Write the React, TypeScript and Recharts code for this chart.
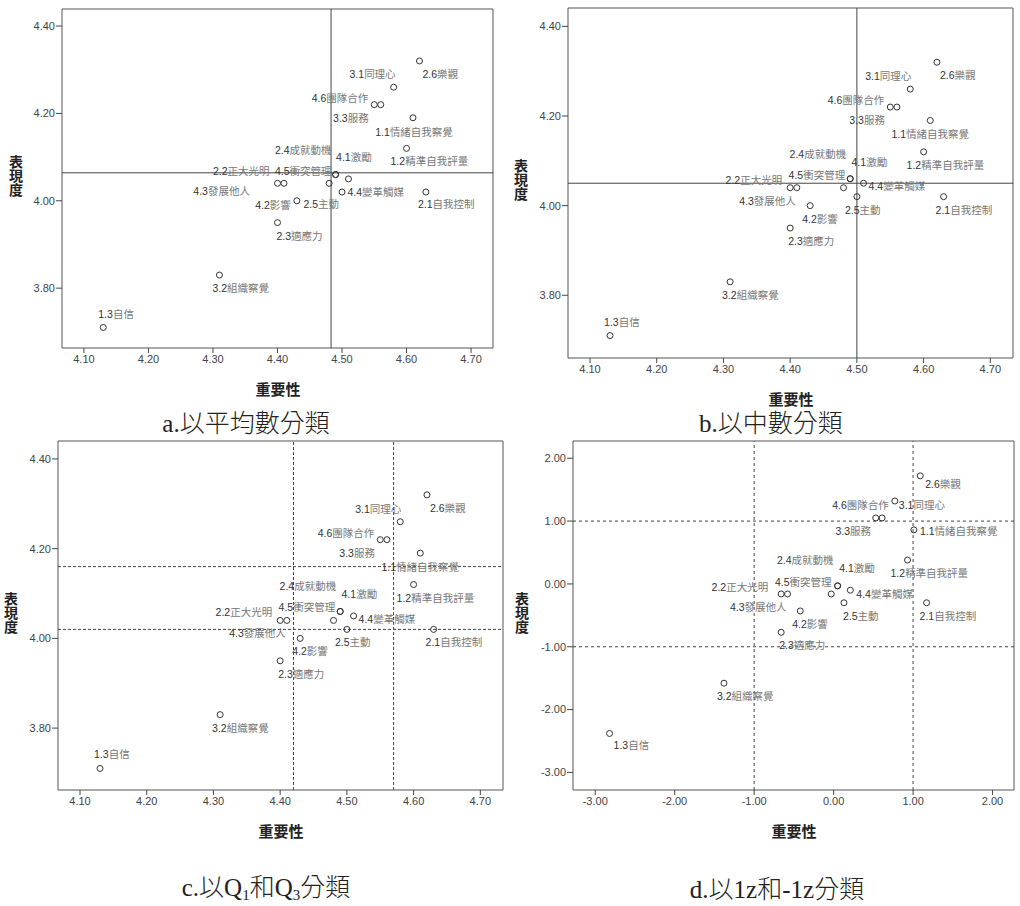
import React from "react";
import { ScatterChart, Scatter, XAxis, YAxis, ReferenceLine, ReferenceArea } from "recharts";

// 18 competencies: code, name
const codes = ["1.1", "1.2", "1.3", "2.1", "2.2", "2.3", "2.4", "2.5", "2.6", "3.1", "3.2", "3.3", "4.1", "4.2", "4.3", "4.4", "4.5", "4.6"];
const names = ["情緒自我察覺", "精準自我評量", "自信", "自我控制", "正大光明", "適應力", "成就動機", "主動", "樂觀", "同理心", "組織察覺", "服務", "激勵", "影響", "發展他人", "變革觸媒", "衝突管理", "團隊合作"];

// 重要性 / 表現度 (raw means)
const importance = [4.61, 4.60, 4.13, 4.63, 4.40, 4.40, 4.49, 4.50, 4.62, 4.58, 4.31, 4.56, 4.48, 4.43, 4.41, 4.51, 4.49, 4.55];
const performance = [4.19, 4.12, 3.71, 4.02, 4.04, 3.95, 4.06, 4.02, 4.32, 4.26, 3.83, 4.22, 4.04, 4.00, 4.04, 4.05, 4.06, 4.22];

// z scores (panel d)
const zImportance = [1.01, 0.93, -2.82, 1.17, -0.66, -0.66, 0.05, 0.13, 1.09, 0.77, -1.38, 0.61, -0.03, -0.42, -0.58, 0.21, 0.05, 0.53];
const zPerformance = [0.86, 0.38, -2.38, -0.30, -0.16, -0.77, -0.03, -0.30, 1.72, 1.32, -1.58, 1.05, -0.16, -0.43, -0.16, -0.10, -0.03, 1.05];

const rawXTicks = [4.1, 4.2, 4.3, 4.4, 4.5, 4.6, 4.7];
const rawYTicks = [3.8, 4.0, 4.2, 4.4];
const zTicks = [-3, -2, -1, 0, 1, 2];

// cut points
const meanCut = { x: [4.483], y: [4.064] };
const medianCut = { x: [4.5], y: [4.05] };
const quartileCut = { x: [4.42, 4.57], y: [4.02, 4.16] };
const zCut = { x: [-1, 1], y: [-1, 1] };

const rawData = codes.map((c, i) => ({ code: c, label: names[i], x: importance[i], y: performance[i] }));
const zData = codes.map((c, i) => ({ code: c, label: names[i], x: zImportance[i], y: zPerformance[i] }));

type Anchor = "start" | "middle" | "end";
type LabelPos = Record<string, [number, number, Anchor]>;

// label offsets from the point (px)
const posA: LabelPos = {
  "2.6": [3, 13, "start"], "3.1": [2, -13, "end"], "4.6": [-6, -7, "end"], "3.3": [-12, 13, "end"],
  "1.1": [1, 14, "middle"], "1.2": [-16, 13, "start"], "2.4": [-4, -25, "end"], "4.1": [7, -26, "start"],
  "2.2": [-8, -12, "end"], "4.5": [-4, -4, "end"], "4.3": [-34, 8, "end"], "4.4": [-1, 13, "start"],
  "4.2": [-6, 4, "end"], "2.5": [-3, 12, "end"], "2.1": [-8, 12, "start"], "2.3": [-1, 13, "start"],
  "3.2": [-7, 13, "start"], "1.3": [-5, -13, "start"],
};
const posBC: LabelPos = {
  "2.6": [3, 13, "start"], "3.1": [1, -13, "end"], "4.6": [-6, -7, "end"], "3.3": [-12, 13, "end"],
  "1.1": [0, 14, "middle"], "1.2": [-17, 13, "start"], "2.4": [-4, -25, "end"], "4.1": [8, -26, "start"],
  "2.2": [-8, -8, "end"], "4.5": [-5, -4, "end"], "4.3": [-1, 13, "end"], "4.4": [5, 3, "start"],
  "4.2": [-8, 13, "start"], "2.5": [-12, 13, "start"], "2.1": [-8, 13, "start"], "2.3": [-2, 13, "start"],
  "3.2": [-8, 13, "start"], "1.3": [-6, -14, "start"],
};
const posD: LabelPos = {
  "2.6": [5, 8, "start"], "3.1": [4, 4, "start"], "4.6": [13, -13, "end"], "3.3": [-11, 13, "end"],
  "1.1": [6, 1, "start"], "1.2": [-17, 13, "start"], "2.4": [-4, -26, "end"], "4.1": [8, -26, "start"],
  "2.2": [-13, -7, "end"], "4.5": [-6, -4, "end"], "4.3": [-1, 13, "end"], "4.4": [6, 4, "start"],
  "4.2": [-8, 13, "start"], "2.5": [-1, 13, "start"], "2.1": [-7, 13, "start"], "2.3": [-2, 13, "start"],
  "3.2": [-7, 13, "start"], "1.3": [4, 12, "start"],
};

const sans = "'Liberation Sans', Arial, 'Noto Sans CJK TC', sans-serif";
const cjkBold = "'Noto Sans CJK TC', sans-serif";
const serif = "'Liberation Serif', 'Times New Roman', 'Noto Sans CJK TC', serif";

function makeShape(pos: LabelPos) {
  return (props: any) => {
    const { cx, cy, payload } = props;
    const [dx, dy, anchor] = pos[payload.code];
    return (
      <g>
        <circle cx={cx} cy={cy} r={3} fill="none" stroke="#333" strokeWidth={1} />
        <text x={cx + dx} y={cy + dy} textAnchor={anchor} dominantBaseline="central" fontSize={10.5} fontFamily={sans}>
          <tspan fill="#333">{payload.code}</tspan>
          <tspan fill="#777">{payload.label}</tspan>
        </text>
      </g>
    );
  };
}

interface PanelProps {
  left: number;
  top: number;
  margin: { top: number; right: number; bottom: number; left: number };
  xDomain: [number, number];
  yDomain: [number, number];
  xTicks: number[];
  yTicks: number[];
  data: { code: string; label: string; x: number; y: number }[];
  pos: LabelPos;
  cut: { x: number[]; y: number[] };
  dash?: string;
}

function Panel({ left, top, margin, xDomain, yDomain, xTicks, yTicks, data, pos, cut, dash }: PanelProps) {
  const tick = { fill: "#444", fontSize: 11, fontFamily: sans };
  const fmt = (v: number) => v.toFixed(2);
  return (
    <div style={{ position: "absolute", left, top }}>
      <ScatterChart width={510} height={400} margin={margin}>
        <XAxis
          type="number"
          dataKey="x"
          domain={xDomain}
          ticks={xTicks}
          allowDataOverflow
          tickFormatter={fmt}
          axisLine={false}
          tickLine={{ stroke: "#444" }}
          tickSize={5}
          tick={tick}
          height={30}
        />
        <YAxis
          type="number"
          dataKey="y"
          domain={yDomain}
          ticks={yTicks}
          allowDataOverflow
          tickFormatter={fmt}
          axisLine={false}
          tickLine={{ stroke: "#444" }}
          tickSize={6}
          tickMargin={1}
          tick={tick}
          width={50}
        />
        <ReferenceArea
          x1={xDomain[0]}
          x2={xDomain[1]}
          y1={yDomain[0]}
          y2={yDomain[1]}
          fill="none"
          fillOpacity={0}
          stroke="#555"
          strokeWidth={1}
        />
        {cut.x.map((v) => (
          <ReferenceLine key={"x" + v} x={v} stroke="#444" strokeWidth={1} strokeDasharray={dash} />
        ))}
        {cut.y.map((v) => (
          <ReferenceLine key={"y" + v} y={v} stroke="#444" strokeWidth={1} strokeDasharray={dash} />
        ))}
        <Scatter data={data} isAnimationActive={false} shape={makeShape(pos)} />
      </ScatterChart>
    </div>
  );
}

function Centered({ x, y, children, style }: { x: number; y: number; children: React.ReactNode; style: React.CSSProperties }) {
  return (
    <div
      style={{
        position: "absolute",
        left: x,
        top: y,
        transform: "translate(-50%, -50%)",
        whiteSpace: "nowrap",
        lineHeight: 1,
        ...style,
      }}
    >
      {children}
    </div>
  );
}

const xTitle: React.CSSProperties = { fontFamily: cjkBold, fontWeight: 700, fontSize: 15, color: "#222" };
const yTitle: React.CSSProperties = { ...xTitle, fontSize: 14, writingMode: "vertical-rl", lineHeight: 1 };
const caption: React.CSSProperties = { fontFamily: serif, fontSize: 25, fontWeight: 300, color: "#222" };
const sub: React.CSSProperties = { fontSize: 15, verticalAlign: "-4px" };

const rawX: [number, number] = [4.067, 4.734];
const rawY: [number, number] = [3.662, 4.44];

export default function App() {
  return (
    <div style={{ position: "absolute", left: 0, top: 0, width: 1020, height: 906, background: "#fff" }}>
      <Panel
        left={0}
        top={0}
        margin={{ top: 9, right: 17, bottom: 22, left: 12 }}
        xDomain={[4.066, 4.734]}
        yDomain={[3.663, 4.439]}
        xTicks={rawXTicks}
        yTicks={rawYTicks}
        data={rawData}
        pos={posA}
        cut={meanCut}
      />
      <Panel
        left={510}
        top={0}
        margin={{ top: 8, right: 7, bottom: 12, left: 8 }}
        xDomain={rawX}
        yDomain={[3.66, 4.441]}
        xTicks={rawXTicks}
        yTicks={rawYTicks}
        data={rawData}
        pos={posBC}
        cut={medianCut}
      />
      <Panel
        left={0}
        top={440}
        margin={{ top: 1, right: 7, bottom: 20, left: 8 }}
        xDomain={rawX}
        yDomain={rawY}
        xTicks={rawXTicks}
        yTicks={rawYTicks}
        data={rawData}
        pos={posBC}
        cut={quartileCut}
        dash="3 2"
      />
      <Panel
        left={510}
        top={440}
        margin={{ top: 1, right: 6, bottom: 20, left: 13 }}
        xDomain={[-3.28, 2.27]}
        yDomain={[-3.28, 2.275]}
        xTicks={zTicks}
        yTicks={zTicks}
        data={zData}
        pos={posD}
        cut={zCut}
        dash="3 3"
      />

      <Centered x={278} y={388} style={xTitle}>重要性</Centered>
      <Centered x={791} y={398} style={xTitle}>重要性</Centered>
      <Centered x={281} y={830} style={xTitle}>重要性</Centered>
      <Centered x={794} y={830} style={xTitle}>重要性</Centered>

      <Centered x={16} y={176} style={yTitle}>表現度</Centered>
      <Centered x={521} y={180} style={yTitle}>表現度</Centered>
      <Centered x={11} y={613} style={yTitle}>表現度</Centered>
      <Centered x={522} y={613} style={yTitle}>表現度</Centered>

      <Centered x={246} y={423} style={caption}>a.以平均數分類</Centered>
      <Centered x={771} y={423} style={caption}>b.以中數分類</Centered>
      <Centered x={266} y={889} style={caption}>
        c.以Q<span style={sub}>1</span>和Q<span style={sub}>3</span>分類
      </Centered>
      <Centered x={777} y={889} style={caption}>d.以1z和-1z分類</Centered>
    </div>
  );
}
